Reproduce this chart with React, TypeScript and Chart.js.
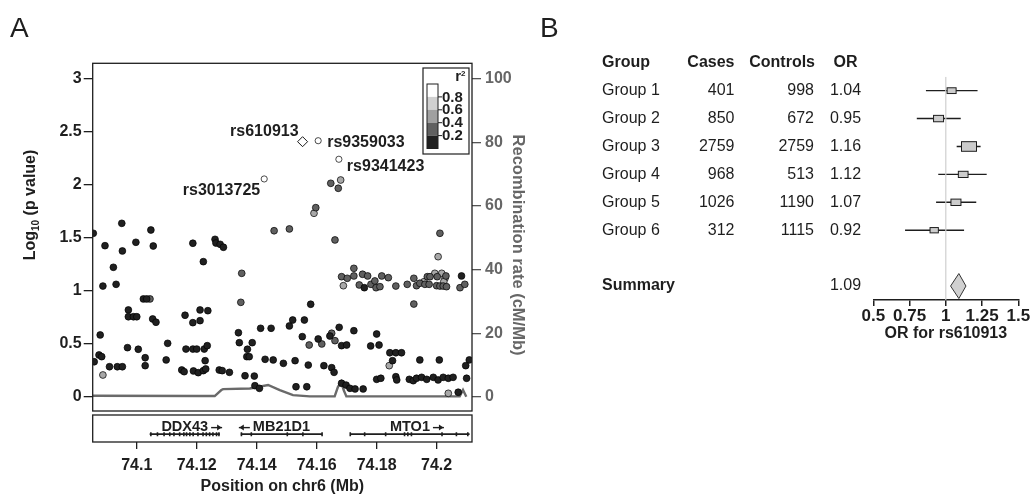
import React, { useEffect, useRef } from "react";
import { Chart, registerables } from "chart.js";

Chart.register(...registerables);

const FONT = "'Liberation Sans', Arial, Helvetica, sans-serif";
const INK = "#1e1e1e";
const GREY_TEXT = "#666666";

// ---------------- Panel A : regional association ----------------
const POS_MIN = 74.0853;
const POS_MAX = 74.2118;
const LOGP_MIN = -0.135;
const LOGP_MAX = 3.148;
const LOGP_TICKS = [0, 0.5, 1, 1.5, 2, 2.5, 3];
const REC_TICKS = [0, 20, 40, 60, 80, 100];
const POS_TICKS = [74.1, 74.12, 74.14, 74.16, 74.18, 74.2];
const R2_LEGEND_LABELS = ["0.8", "0.6", "0.4", "0.2"];
const R2_LEGEND_COLORS = ["#ffffff", "#d0d0d0", "#a0a0a0", "#606060", "#202020"];

// r2 < 0.2
const R2_00_POS = [
  74.0855, 74.0950, 74.1047, 74.0997, 74.1261, 74.0894, 74.1055, 74.0952, 74.1187, 74.1264,
  74.1278, 74.1289, 74.1222, 74.0922, 74.0887, 74.0931, 74.1022, 74.1033, 74.0972, 74.0972,
  74.0989, 74.1000, 74.1053, 74.1064, 74.1161, 74.1211, 74.1237, 74.1211, 74.1187, 74.0878,
  74.1339, 74.1413, 74.1448, 74.0969, 74.1005, 74.1103, 74.1164, 74.1187, 74.1200, 74.1225,
  74.1235, 74.1342, 74.1385, 74.1369, 74.0858, 74.0874, 74.0883, 74.1028, 74.1028, 74.1098,
  74.1228, 74.1367, 74.1375, 74.1428, 74.1455, 74.0909, 74.0935, 74.0952, 74.1150, 74.1158,
  74.1189, 74.1205, 74.1222, 74.1230, 74.1275, 74.1285, 74.1309, 74.1361, 74.1392, 74.1394,
  74.1409,
  74.1580, 74.1509, 74.1520, 74.1559, 74.1552, 74.1605, 74.1644, 74.1675, 74.1683, 74.1700,
  74.1724, 74.1780, 74.1800, 74.1808, 74.1844, 74.1864, 74.1883, 74.1853, 74.1944, 74.2009,
  74.2109, 74.2097, 74.1489, 74.1528, 74.1572, 74.1624, 74.1650, 74.1658, 74.1531, 74.1567,
  74.1683, 74.1698, 74.1711, 74.1728, 74.1755, 74.1800, 74.1814, 74.1864, 74.1867, 74.1909,
  74.1922, 74.1933, 74.1950, 74.1967, 74.1989, 74.2005, 74.2022, 74.2039, 74.2055, 74.2100,
  74.2072, 74.2083, 74.1759,
];
const R2_00_LOGP = [
  1.543, 1.637, 1.574, 1.458, 1.486, 1.426, 1.423, 1.376, 1.449, 1.451,
  1.439, 1.411, 1.275, 1.222, 1.045, 1.061, 0.923, 0.923, 0.819, 0.755,
  0.755, 0.755, 0.734, 0.703, 0.769, 0.819, 0.812, 0.718, 0.699, 0.583,
  0.604, 0.646, 0.646, 0.463, 0.448, 0.504, 0.450, 0.450, 0.450, 0.450,
  0.482, 0.510, 0.510, 0.448, 0.330, 0.394, 0.378, 0.368, 0.293, 0.347,
  0.340, 0.378, 0.378, 0.353, 0.347, 0.283, 0.283, 0.283, 0.252, 0.236,
  0.243, 0.227, 0.246, 0.262, 0.252, 0.246, 0.230, 0.198, 0.195, 0.104,
  0.079,
  0.873, 0.668, 0.724, 0.724, 0.567, 0.545, 0.573, 0.655, 0.482, 0.488,
  0.623, 0.479, 0.592, 0.488, 0.415, 0.415, 0.415, 0.340, 0.347, 0.347,
  0.347, 0.293, 0.315, 0.340, 0.299, 0.293, 0.274, 0.230, 0.094, 0.094,
  0.127, 0.110, 0.079, 0.073, 0.073, 0.164, 0.174, 0.189, 0.158, 0.164,
  0.151, 0.174, 0.183, 0.164, 0.183, 0.158, 0.183, 0.174, 0.183, 0.174,
  0.042, 1.140, 1.029,
];

// 0.2 <= r2 < 0.4
const R2_02_POS = [
  74.1458, 74.1509, 74.1661, 74.2011, 74.1350, 74.1347, 74.1647, 74.1672, 74.1597, 74.1924,
  74.1044, 74.1683, 74.1702, 74.1724, 74.1724, 74.1742, 74.1753, 74.1770, 74.1781, 74.1794,
  74.1798, 74.1811, 74.1817, 74.1839, 74.1864, 74.1902, 74.1924, 74.1933, 74.1944, 74.1961,
  74.1969, 74.1978, 74.1975, 74.2002, 74.2031, 74.2000, 74.2011, 74.2022, 74.2033, 74.2078,
  74.2094, 74.1617, 74.1575, 74.1650, 74.1661,
];
const R2_02_LOGP = [
  1.567, 1.584, 1.480, 1.543, 1.165, 0.891, 2.015, 1.968, 1.785, 0.875,
  0.923, 1.133, 1.118, 1.212, 1.140, 1.055, 1.156, 1.140, 1.061, 1.093,
  1.029, 1.039, 1.140, 1.124, 1.045, 1.061, 1.118, 1.048, 1.071, 1.061,
  1.133, 1.133, 1.061, 1.133, 1.140, 1.048, 1.045, 1.045, 1.039, 1.029,
  1.061, 0.498, 0.488, 0.599, 0.529,
];

// 0.4 <= r2 < 0.6
const R2_04_POS = [74.1680, 74.1591, 74.0887, 74.2005, 74.1689, 74.1958, 74.1994, 74.2017, 74.2028, 74.2024, 74.1842, 74.2039];
const R2_04_LOGP = [2.046, 1.732, 0.205, 1.322, 1.048, 1.086, 1.165, 1.165, 1.118, 1.086, 0.293, 0.032];

// r2 >= 0.8
const R2_08_SNPS = ["rs3013725", "rs9359033", "rs9341423"];
const R2_08_POS = [74.1425, 74.1605, 74.1674];
const R2_08_LOGP = [2.056, 2.417, 2.242];

// index SNP
const INDEX_SNP = "rs610913";
const INDEX_POS = [74.1553];
const INDEX_LOGP = [2.408];

// recombination rate (cM/Mb)
const REC_POS = [74.0853, 74.1210, 74.1260, 74.1282, 74.1288, 74.1377, 74.1438, 74.1477, 74.1521, 74.1577, 74.1660, 74.1671, 74.1682, 74.1690, 74.1699, 74.2077, 74.2088, 74.2099];
const REC_RATE = [0.3, 0.2, 0.2, 2.1, 2.4, 2.6, 3.7, 2.1, 0.5, 0.1, 0.1, 3.1, 4.7, 2.1, 0.1, 0.1, 2.1, 0.0];

// genes
const GENE_NAMES = ["DDX43", "MB21D1", "MTO1"];
const GENE_START = [74.1043, 74.1347, 74.1712];
const GENE_END = [74.1277, 74.1618, 74.2110];
const GENE_STRAND = ["+", "-", "+"];
const EXONS_DDX43 = [74.1047, 74.1069, 74.1091, 74.1110, 74.1124, 74.1143, 74.1157, 74.1166, 74.1177, 74.1188, 74.1204, 74.1221, 74.1232, 74.1243, 74.1254, 74.1266, 74.1274];
const EXONS_MB21D1 = [74.1349, 74.1382, 74.1502, 74.1554, 74.1618];
const EXONS_MTO1 = [74.1712, 74.1760, 74.1830, 74.1893, 74.1904, 74.1916, 74.2018, 74.2066, 74.2104];

// ---------------- Panel B : forest plot ----------------
const GROUPS = ["Group 1", "Group 2", "Group 3", "Group 4", "Group 5", "Group 6"];
const CASES = [401, 850, 2759, 968, 1026, 312];
const CONTROLS = [998, 672, 2759, 513, 1190, 1115];
const OR = [1.04, 0.95, 1.16, 1.12, 1.07, 0.92];
const CI_LOW = [0.863, 0.80, 1.075, 0.948, 0.933, 0.719];
const CI_HIGH = [1.219, 1.103, 1.24, 1.282, 1.21, 1.126];
const WEIGHTS = [0.9, 1.0, 1.5, 0.97, 1.0, 0.83];
const SUMMARY_OR = 1.09;
const SUMMARY_LOW = 1.033;
const SUMMARY_HIGH = 1.139;
const OR_TICKS = [0.5, 0.75, 1, 1.25, 1.5];

Chart.defaults.font.family = FONT;

const pts = (xs: number[], ys: number[]) => xs.map((x, i) => ({ x, y: ys[i] }));
const setTicks = (vals: number[]) => (s: any) => {
  s.ticks = vals.map((v) => ({ value: v }));
};

function cfgA(): any {
  const labelOffsets: Record<string, { dx: number; dy: number; align: CanvasTextAlign }> = {
    rs610913: { dx: -4, dy: -10, align: "right" },
    rs9359033: { dx: 9, dy: 2, align: "left" },
    rs9341423: { dx: 8, dy: 7, align: "left" },
    rs3013725: { dx: -4, dy: 12, align: "right" },
  };
  const plugin = {
    id: "panelA",
    afterDatasetsDraw(chart: any) {
      const { ctx, chartArea: a, scales } = chart;
      const xs = scales.x;
      const ys = scales.y;
      ctx.save();
      ctx.strokeStyle = INK;
      ctx.lineWidth = 1.3;
      ctx.strokeRect(a.left, a.top, a.right - a.left, a.bottom - a.top);

      // SNP labels
      ctx.font = `bold 16px ${FONT}`;
      ctx.fillStyle = INK;
      ctx.textBaseline = "middle";
      const labelled = [
        { name: INDEX_SNP, x: INDEX_POS[0], y: INDEX_LOGP[0] },
        ...R2_08_SNPS.map((n, i) => ({ name: n, x: R2_08_POS[i], y: R2_08_LOGP[i] })),
      ];
      labelled.forEach((p) => {
        const o = labelOffsets[p.name];
        ctx.textAlign = o.align;
        ctx.fillText(p.name, xs.getPixelForValue(p.x) + o.dx, ys.getPixelForValue(p.y) + o.dy);
      });

      // r2 legend
      const L = { x: 423, y: 68, w: 46, h: 86 };
      ctx.fillStyle = "#fff";
      ctx.fillRect(L.x, L.y, L.w, L.h);
      ctx.lineWidth = 1.2;
      ctx.strokeStyle = INK;
      ctx.strokeRect(L.x, L.y, L.w, L.h);
      const bx = 427, bw = 11, by = 84, bh = 12.9;
      R2_LEGEND_COLORS.forEach((c, i) => {
        ctx.fillStyle = c;
        ctx.fillRect(bx, by + i * bh, bw, bh);
      });
      ctx.lineWidth = 1;
      ctx.strokeRect(bx, by, bw, bh * 5);
      ctx.font = `bold 15px ${FONT}`;
      ctx.fillStyle = INK;
      ctx.textAlign = "left";
      ctx.textBaseline = "middle";
      R2_LEGEND_LABELS.forEach((t, i) => {
        const yy = by + (i + 1) * bh;
        ctx.beginPath();
        ctx.moveTo(bx + bw, yy);
        ctx.lineTo(bx + bw + 4, yy);
        ctx.stroke();
        ctx.fillText(t, bx + bw + 4, yy + 0.5);
      });
      ctx.textAlign = "right";
      ctx.textBaseline = "alphabetic";
      ctx.font = `bold 8px ${FONT}`;
      const w2 = ctx.measureText("2").width;
      ctx.fillText("2", 465.5, 76);
      ctx.font = `bold 15px ${FONT}`;
      ctx.fillText("r", 465.5 - w2, 81);

      // left axis title with subscript
      const big = `bold 16px ${FONT}`;
      const small = `bold 10px ${FONT}`;
      ctx.save();
      ctx.translate(35, 205);
      ctx.rotate(-Math.PI / 2);
      ctx.fillStyle = INK;
      ctx.textAlign = "left";
      ctx.font = big;
      const t1 = ctx.measureText("Log").width;
      const t3 = ctx.measureText(" (p value)").width;
      ctx.font = small;
      const t2 = ctx.measureText("10").width;
      const x0 = -(t1 + t2 + t3) / 2;
      ctx.font = big;
      ctx.fillText("Log", x0, 0);
      ctx.font = small;
      ctx.fillText("10", x0 + t1, 4);
      ctx.font = big;
      ctx.fillText(" (p value)", x0 + t1 + t2, 0);
      ctx.restore();

      // right axis title
      ctx.save();
      ctx.translate(513, 245);
      ctx.rotate(Math.PI / 2);
      ctx.fillStyle = GREY_TEXT;
      ctx.textAlign = "center";
      ctx.textBaseline = "alphabetic";
      ctx.font = `bold 16.5px ${FONT}`;
      ctx.fillText("Recombination rate (cM/Mb)", 0, 0);
      ctx.restore();

      // panel letter
      ctx.fillStyle = INK;
      ctx.font = `28px ${FONT}`;
      ctx.textAlign = "left";
      ctx.textBaseline = "alphabetic";
      ctx.fillText("A", 10, 37);
      ctx.restore();
    },
  };

  const dot = (data: any[], fill: string, r = 3.4) => ({
    type: "scatter",
    data,
    backgroundColor: fill,
    borderColor: "#000",
    borderWidth: 0.7,
    pointRadius: r,
    yAxisID: "y",
    order: 1,
  });

  const noPad = (w: number) => (s: any) => {
    s.width = w;
    s.paddingTop = 0;
    s.paddingBottom = 0;
  };

  return {
    type: "scatter",
    data: {
      datasets: [
        {
          type: "line",
          data: pts(REC_POS, REC_RATE),
          yAxisID: "y2",
          borderColor: "#6a6a6a",
          borderWidth: 2.4,
          pointRadius: 0,
          tension: 0,
          order: 10,
        },
        dot(pts(R2_00_POS, R2_00_LOGP), "#202020"),
        dot(pts(R2_02_POS, R2_02_LOGP), "#606060"),
        dot(pts(R2_04_POS, R2_04_LOGP), "#a8a8a8"),
        dot(pts(R2_08_POS, R2_08_LOGP), "#ffffff", 3.1),
        {
          type: "scatter",
          data: pts(INDEX_POS, INDEX_LOGP),
          pointStyle: "rectRot",
          pointRadius: 5,
          backgroundColor: "#fff",
          borderColor: "#000",
          borderWidth: 0.9,
          yAxisID: "y",
          order: 0,
        },
      ],
    },
    options: {
      responsive: false,
      animation: false,
      events: [],
      devicePixelRatio: 1,
      layout: { autoPadding: false, padding: { top: 63.3, bottom: 2, left: 0, right: 0 } },
      plugins: { legend: { display: false }, tooltip: { enabled: false } },
      scales: {
        x: { type: "linear", min: POS_MIN, max: POS_MAX, display: false },
        y: {
          type: "linear",
          position: "left",
          min: LOGP_MIN,
          max: LOGP_MAX,
          afterBuildTicks: setTicks(LOGP_TICKS),
          afterFit: noPad(92.7),
          border: { display: false },
          grid: { drawOnChartArea: false, tickLength: 9, color: INK, lineWidth: 1.3 },
          ticks: { color: INK, font: { size: 16, weight: "bold" }, padding: 2, callback: (v: any) => String(v) },
        },
        y2: {
          type: "linear",
          position: "right",
          min: (LOGP_MIN * 100) / 3,
          max: (LOGP_MAX * 100) / 3,
          afterBuildTicks: setTicks(REC_TICKS),
          afterFit: noPad(88),
          border: { display: false },
          grid: { drawOnChartArea: false, tickLength: 9, color: "#555", lineWidth: 1.3 },
          ticks: { color: GREY_TEXT, font: { size: 16, weight: "bold" }, padding: 4, callback: (v: any) => String(v) },
        },
      },
    },
    plugins: [plugin],
  };
}

function cfgGenes(): any {
  const exonSets = [EXONS_DDX43, EXONS_MB21D1, EXONS_MTO1];
  const GENE_Y = 0.29;
  const LABEL_Y = 0.57;
  const plugin = {
    id: "genes",
    afterDatasetsDraw(chart: any) {
      const { ctx, chartArea: a, scales } = chart;
      ctx.save();
      ctx.strokeStyle = INK;
      ctx.lineWidth = 1.3;
      ctx.strokeRect(a.left, a.top, a.right - a.left, a.bottom - a.top);
      ctx.font = `bold 14.5px ${FONT}`;
      ctx.fillStyle = INK;
      ctx.textAlign = "center";
      ctx.textBaseline = "middle";
      const ly = scales.y.getPixelForValue(LABEL_Y);
      GENE_NAMES.forEach((g, i) => {
        const mid = (scales.x.getPixelForValue(GENE_START[i]) + scales.x.getPixelForValue(GENE_END[i])) / 2;
        const w = ctx.measureText(g).width;
        ctx.fillText(g, mid, ly);
        // direction arrow
        const fwd = GENE_STRAND[i] === "+";
        const ay = ly + 1;
        const x1 = fwd ? mid + w / 2 + 3 : mid - w / 2 - 3;
        const x2 = fwd ? x1 + 11 : x1 - 11;
        ctx.lineWidth = 1.4;
        ctx.strokeStyle = INK;
        ctx.beginPath();
        ctx.moveTo(x1, ay);
        ctx.lineTo(x2, ay);
        ctx.stroke();
        const d = fwd ? -1 : 1;
        ctx.beginPath();
        ctx.moveTo(x2 + d * 0.5, ay);
        ctx.lineTo(x2 + d * 5, ay - 3);
        ctx.lineTo(x2 + d * 5, ay + 3);
        ctx.closePath();
        ctx.fill();
      });
      ctx.restore();
    },
  };
  return {
    type: "scatter",
    data: {
      datasets: [
        ...GENE_NAMES.map((_, i) => ({
          type: "line",
          data: [
            { x: GENE_START[i], y: GENE_Y },
            { x: GENE_END[i], y: GENE_Y },
          ],
          borderColor: INK,
          borderWidth: 1.6,
          pointRadius: 0,
        })),
        ...exonSets.map((ex) => ({
          type: "scatter",
          data: ex.map((x) => ({ x, y: GENE_Y })),
          pointStyle: "line",
          rotation: 90,
          pointRadius: 2,
          borderColor: INK,
          borderWidth: 1.6,
        })),
      ],
    },
    options: {
      responsive: false,
      animation: false,
      events: [],
      devicePixelRatio: 1,
      layout: { autoPadding: false, padding: { top: 2, bottom: 0, left: 92.7, right: 88 } },
      plugins: { legend: { display: false }, tooltip: { enabled: false } },
      scales: {
        x: {
          type: "linear",
          min: POS_MIN,
          max: POS_MAX,
          afterBuildTicks: setTicks(POS_TICKS),
          afterFit: (s: any) => {
            s.height = 54;
            s.paddingLeft = 0;
            s.paddingRight = 0;
          },
          border: { display: false },
          grid: { drawOnChartArea: false, tickLength: 7, color: INK, lineWidth: 1.3 },
          ticks: { color: INK, font: { size: 16, weight: "bold" }, padding: 7, maxRotation: 0, callback: (v: any) => String(v) },
          title: { display: true, text: "Position on chr6 (Mb)", color: INK, font: { size: 16, weight: "bold" }, padding: 0 },
        },
        y: { type: "linear", min: 0, max: 1, display: false },
      },
    },
    plugins: [plugin],
  };
}

function cfgForest(): any {
  const COL_GROUP = 72;
  const COL_CASES = 204.5;
  const COL_CONTROLS = 284;
  const COL_OR = 315.5;
  const SUMMARY_ROW = 8;
  const plugin = {
    id: "forest",
    afterDatasetsDraw(chart: any) {
      const { ctx, scales } = chart;
      const xs = scales.x;
      const ys = scales.y;
      ctx.save();
      ctx.textBaseline = "middle";
      ctx.fillStyle = INK;
      // header
      const hy = ys.getPixelForValue(0);
      ctx.font = `bold 16px ${FONT}`;
      ctx.textAlign = "left";
      ctx.fillText("Group", COL_GROUP, hy);
      ctx.textAlign = "right";
      ctx.fillText("Cases", COL_CASES, hy);
      ctx.fillText("Controls", COL_CONTROLS + 1, hy);
      ctx.textAlign = "center";
      ctx.fillText("OR", COL_OR, hy);
      // rows
      ctx.font = `16px ${FONT}`;
      GROUPS.forEach((g, i) => {
        const y = ys.getPixelForValue(i + 1);
        ctx.textAlign = "left";
        ctx.fillText(g, COL_GROUP, y);
        ctx.textAlign = "right";
        ctx.fillText(String(CASES[i]), COL_CASES, y);
        ctx.fillText(String(CONTROLS[i]), COL_CONTROLS, y);
        ctx.textAlign = "center";
        ctx.fillText(OR[i].toFixed(2), COL_OR, y);
      });
      const sy = ys.getPixelForValue(SUMMARY_ROW);
      ctx.textAlign = "left";
      ctx.font = `bold 16px ${FONT}`;
      ctx.fillText("Summary", COL_GROUP, sy);
      ctx.font = `16px ${FONT}`;
      ctx.textAlign = "center";
      ctx.fillText(SUMMARY_OR.toFixed(2), COL_OR, sy);

      // boxes
      ctx.lineWidth = 1;
      ctx.strokeStyle = INK;
      OR.forEach((v, i) => {
        const cx = xs.getPixelForValue(v);
        const cy = ys.getPixelForValue(i + 1);
        const w = 10 * WEIGHTS[i];
        const h = 6.4 * WEIGHTS[i];
        ctx.fillStyle = "#cccccc";
        ctx.fillRect(cx - w / 2, cy - h / 2, w, h);
        ctx.strokeRect(cx - w / 2, cy - h / 2, w, h);
      });
      // summary diamond
      const dh = 12.5;
      ctx.beginPath();
      ctx.moveTo(xs.getPixelForValue(SUMMARY_LOW), sy);
      ctx.lineTo(xs.getPixelForValue(SUMMARY_OR), sy - dh);
      ctx.lineTo(xs.getPixelForValue(SUMMARY_HIGH), sy);
      ctx.lineTo(xs.getPixelForValue(SUMMARY_OR), sy + dh);
      ctx.closePath();
      ctx.fillStyle = "#d0d0d0";
      ctx.fill();
      ctx.strokeStyle = "#333";
      ctx.stroke();

      // panel letter
      ctx.fillStyle = INK;
      ctx.font = `28px ${FONT}`;
      ctx.textAlign = "left";
      ctx.textBaseline = "alphabetic";
      ctx.fillText("B", 10, 37);
      ctx.restore();
    },
  };
  return {
    type: "scatter",
    data: {
      datasets: [
        {
          type: "line",
          data: [
            { x: 1, y: 0.5 },
            { x: 1, y: 8.5 },
          ],
          borderColor: "#cfcfcf",
          borderWidth: 1.2,
          pointRadius: 0,
        },
        ...GROUPS.map((_, i) => ({
          type: "line",
          data: [
            { x: CI_LOW[i], y: i + 1 },
            { x: CI_HIGH[i], y: i + 1 },
          ],
          borderColor: INK,
          borderWidth: 1.4,
          pointRadius: 0,
        })),
      ],
    },
    options: {
      responsive: false,
      animation: false,
      events: [],
      devicePixelRatio: 1,
      layout: { autoPadding: false, padding: { top: 76.7, bottom: 152.8, left: 343.3, right: 12.7 } },
      plugins: { legend: { display: false }, tooltip: { enabled: false } },
      scales: {
        x: {
          type: "linear",
          min: 0.5,
          max: 1.5,
          afterBuildTicks: setTicks(OR_TICKS),
          afterFit: (s: any) => {
            s.height = 43.2;
          },
          border: { display: true, color: INK, width: 1.5 },
          grid: { drawOnChartArea: false, tickLength: 6, color: INK, lineWidth: 1.5 },
          ticks: { color: INK, font: { size: 17, weight: "bold" }, padding: 0, maxRotation: 0, callback: (v: any) => String(v) },
          title: { display: true, text: "OR for rs610913", color: INK, font: { size: 16, weight: "bold" }, padding: 0 },
        },
        y: { type: "linear", min: 0.5, max: 8.5, reverse: true, display: false },
      },
    },
    plugins: [plugin],
  };
}

export default function App() {
  const aRef = useRef<HTMLCanvasElement>(null);
  const gRef = useRef<HTMLCanvasElement>(null);
  const bRef = useRef<HTMLCanvasElement>(null);
  useEffect(() => {
    const charts = [
      new Chart(aRef.current as HTMLCanvasElement, cfgA()),
      new Chart(gRef.current as HTMLCanvasElement, cfgGenes()),
      new Chart(bRef.current as HTMLCanvasElement, cfgForest()),
    ];
    return () => charts.forEach((c) => c.destroy());
  }, []);
  return (
    <div style={{ position: "absolute", left: 0, top: 0, width: 1031, height: 496, background: "#fff", overflow: "hidden" }}>
      <canvas ref={aRef} width={560} height={413} style={{ position: "absolute", left: 0, top: 0 }} />
      <canvas ref={gRef} width={560} height={83} style={{ position: "absolute", left: 0, top: 413 }} />
      <canvas ref={bRef} width={501} height={496} style={{ position: "absolute", left: 530, top: 0 }} />
    </div>
  );
}
